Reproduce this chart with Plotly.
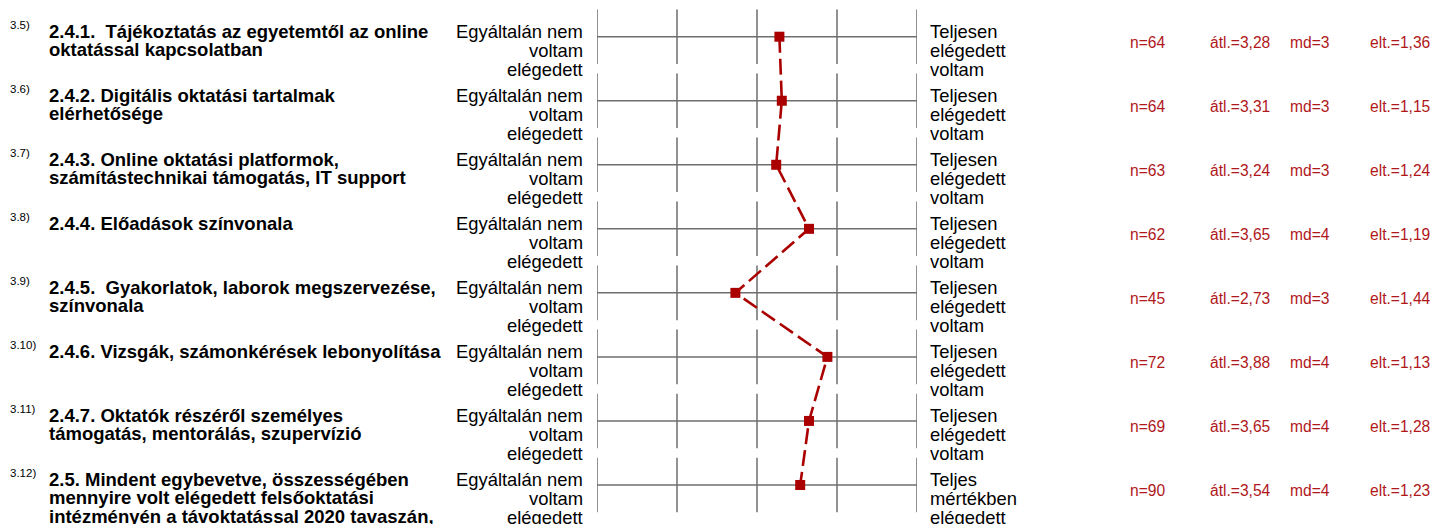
import plotly.graph_objects as go

# ---- data ----
item_numbers = ["3.5)", "3.6)", "3.7)", "3.8)", "3.9)", "3.10)", "3.11)", "3.12)"]
item_lines = [
    ["2.4.1.  Tájékoztatás az egyetemtől az online", "oktatással kapcsolatban"],
    ["2.4.2. Digitális oktatási tartalmak", "elérhetősége"],
    ["2.4.3. Online oktatási platformok,", "számítástechnikai támogatás, IT support"],
    ["2.4.4. Előadások színvonala"],
    ["2.4.5.  Gyakorlatok, laborok megszervezése,", "színvonala"],
    ["2.4.6. Vizsgák, számonkérések lebonyolítása"],
    ["2.4.7. Oktatók részéről személyes", "támogatás, mentorálás, szupervízió"],
    ["2.5. Mindent egybevetve, összességében", "mennyire volt elégedett felsőoktatási",
     "intézményén a távoktatással 2020 tavaszán,"],
]
left_labels = [["Egyáltalán nem", "voltam", "elégedett"]] * 8
right_labels = [["Teljesen", "elégedett", "voltam"]] * 7 + [["Teljes", "mértékben", "elégedett"]]
n_values = [64, 64, 63, 62, 45, 72, 69, 90]
means = [3.28, 3.31, 3.24, 3.65, 2.73, 3.88, 3.65, 3.54]
medians = [3, 3, 3, 4, 3, 4, 4, 4]
std_devs = [1.36, 1.15, 1.24, 1.19, 1.44, 1.13, 1.28, 1.23]
scale_points = [1, 2, 3, 4, 5]

# ---- layout constants ----
W, H = 1433, 524
PLOT_L, PLOT_R = 597, 917
ROW0, ROW_STEP = 36.7, 64.04
FONT = "Arial, 'Liberation Sans', sans-serif"
RED = "#aa0000"
TXT_RED = "#b0181b"
GRID = "#6e6e6e"

rows = list(range(len(means)))

def px_x(px):
    return (px - PLOT_L) / (PLOT_R - PLOT_L)

def dy(px):
    return px / ROW_STEP

fig = go.Figure()

shapes = []
for r in rows:
    shapes.append(dict(type="line", xref="x", yref="y", x0=scale_points[0], x1=scale_points[-1],
                       y0=r, y1=r, line=dict(color=GRID, width=1.5), layer="below"))
    for sp in scale_points:
        shapes.append(dict(type="line", xref="x", yref="y", x0=sp, x1=sp,
                           y0=r - dy(27.3), y1=r + dy(27.3),
                           line=dict(color=GRID, width=1.5), layer="below"))

fig.add_trace(go.Scatter(
    x=means, y=rows, mode="lines+markers",
    line=dict(color=RED, width=2.6, dash="16px,6px"),
    marker=dict(symbol="square", size=10, color=RED),
    hoverinfo="skip", showlegend=False, cliponaxis=False,
))

ann = []
def add(text, xpx, y, anchor, size, color="#000", bold=False):
    t = f"<b>{text}</b>" if bold else text
    ann.append(dict(text=t, xref="paper", yref="y", x=px_x(xpx), y=y,
                    xanchor=anchor, yanchor="middle", showarrow=False,
                    font=dict(family=FONT, size=size, color=color), borderpad=0))

def dec(v):
    return f"{v:.2f}".replace(".", ",")

for r in rows:
    add(item_numbers[r], 9, r - dy(11.7), "left", 11.5)
    for k, line in enumerate(item_lines[r]):
        add(line, 48, r + dy(-5.7 + 18.7 * k), "left", 18.5, bold=True)
    for k, line in enumerate(left_labels[r]):
        add(line, 584, r + dy(-5.7 + 19 * k), "right", 18.4)
    for k, line in enumerate(right_labels[r]):
        add(line, 929, r + dy(-5.7 + 19 * k), "left", 18.4)
    sy = r + dy(5.6)
    add(f"n={n_values[r]}", 1129, sy, "left", 15.6, TXT_RED)
    add("átl.=" + dec(means[r]), 1209, sy, "left", 15.6, TXT_RED)
    add(f"md={medians[r]}", 1289, sy, "left", 15.6, TXT_RED)
    add("elt.=" + dec(std_devs[r]), 1369, sy, "left", 15.6, TXT_RED)

fig.update_layout(
    width=W, height=H,
    margin=dict(l=PLOT_L, r=W - PLOT_R, t=0, b=0, pad=0),
    paper_bgcolor="white", plot_bgcolor="white",
    xaxis=dict(range=[scale_points[0], scale_points[-1]], visible=False, fixedrange=True),
    yaxis=dict(range=[(H - ROW0) / ROW_STEP, -ROW0 / ROW_STEP], visible=False, fixedrange=True),
    shapes=shapes, annotations=ann,
)

fig.write_html("out.html", config={"displayModeBar": False},
               post_script="document.body.style.margin='0';")
